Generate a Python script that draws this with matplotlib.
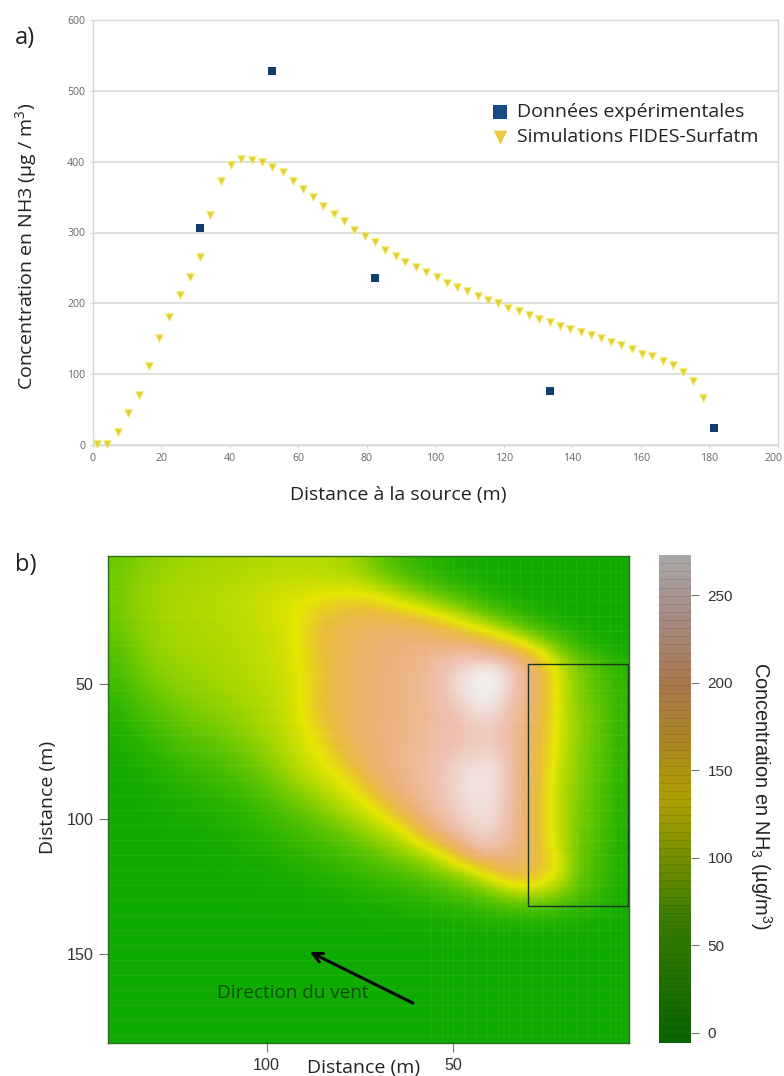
#!/usr/bin/env python3
"""Concentration en NH3 : profil (a) et carte (b)"""
import matplotlib
matplotlib.use('Agg')
import matplotlib.pyplot as plt
import numpy as np
from matplotlib.cm import ScalarMappable
from matplotlib.colors import LinearSegmentedColormap, Normalize
from matplotlib.patches import Rectangle
from matplotlib.transforms import ScaledTranslation

plt.rcParams['font.family'] = ['Open Sans', 'DejaVu Sans']
plt.rcParams['mathtext.default'] = 'regular'

# a) values
exp_x = [31.3, 52.4, 82.4, 133.5, 181.4]
exp_y = [306, 528, 236, 76, 23.5]
sim_x = [1.2, 4.3, 7.3, 10.4, 13.4, 16.4, 19.4, 22.4, 25.5, 28.3, 31.3, 34.3, 37.5, 40.4, 43.4,
         46.4, 49.4, 52.4, 55.5, 58.4, 61.3, 64.3, 67.2, 70.4, 73.4, 76.4, 79.4, 82.3, 85.4, 88.5,
         91.3, 94.3, 97.3, 100.4, 103.4, 106.4, 109.4, 112.4, 115.4, 118.4, 121.3, 124.4, 127.4,
         130.4, 133.4, 136.4, 139.4, 142.5, 145.4, 148.4, 151.4, 154.3, 157.4, 160.4, 163.4,
         166.4, 169.4, 172.4, 175.4, 178.1]
sim_y = [1.4, 1.9, 18.9, 44.7, 70, 111.6, 151.6, 181, 212, 237, 266, 325, 373, 395.5, 404,
         403, 399, 393, 385, 373, 361, 350, 337.6, 326, 316, 304, 295, 286, 275, 267,
         258, 252, 244, 237, 229, 223, 217, 210, 205, 200, 194, 189, 183,
         178, 173, 168, 164, 160, 155, 151, 146, 141, 136, 129, 125,
         119, 113, 103, 91, 67]

# b) concentration sampled on a coarse grid, from the colours of the picture
conc_grid = [
    [70, 80, 90, 95, 98, 100, 102, 104, 107, 108, 108, 102, 92, 65, 42, 28, 18, 11, 8, 7, 6, 6, 6, 6, 6, 6],
    [72, 88, 95, 100, 103, 106, 110, 114, 118, 120, 120, 120, 118, 105, 85, 60, 40, 28, 15, 10, 8, 7, 6, 6, 6, 6],
    [72, 88, 97, 102, 105, 108, 112, 118, 125, 133, 150, 160, 165, 160, 140, 128, 105, 80, 50, 30, 15, 10, 8, 7, 7, 6],
    [68, 84, 94, 100, 103, 106, 110, 115, 122, 133, 165, 178, 188, 195, 198, 190, 175, 155, 130, 100, 65, 35, 18, 10, 8, 7],
    [55, 80, 92, 98, 101, 104, 108, 113, 120, 133, 165, 180, 192, 200, 205, 210, 215, 215, 205, 188, 168, 125, 75, 35, 15, 8],
    [47, 70, 85, 92, 96, 100, 105, 111, 118, 130, 160, 180, 195, 203, 208, 215, 232, 252, 270, 270, 232, 185, 125, 82, 55, 24],
    [38, 58, 74, 84, 90, 95, 101, 107, 115, 128, 160, 180, 195, 203, 208, 218, 235, 258, 273, 271, 228, 190, 125, 78, 55, 28],
    [25, 45, 60, 72, 80, 86, 94, 103, 112, 128, 165, 182, 197, 203, 208, 218, 228, 242, 268, 256, 222, 185, 125, 82, 64, 28],
    [18, 30, 45, 58, 68, 75, 85, 97, 108, 125, 150, 175, 195, 205, 210, 218, 228, 235, 240, 240, 218, 180, 125, 88, 64, 28],
    [12, 20, 30, 42, 52, 60, 70, 85, 100, 120, 135, 170, 190, 205, 212, 222, 232, 240, 247, 245, 218, 170, 125, 82, 60, 25],
    [8, 12, 20, 28, 36, 44, 55, 70, 88, 108, 125, 140, 178, 200, 212, 225, 238, 252, 264, 258, 218, 170, 115, 82, 60, 25],
    [6, 8, 13, 18, 24, 30, 40, 52, 68, 88, 105, 125, 140, 185, 208, 222, 238, 255, 265, 257, 216, 165, 115, 78, 55, 22],
    [6, 6, 9, 12, 15, 19, 26, 35, 48, 62, 78, 98, 120, 135, 185, 212, 230, 250, 261, 254, 214, 165, 115, 75, 55, 20],
    [6, 6, 7, 9, 10, 13, 17, 23, 32, 42, 55, 70, 85, 108, 122, 175, 215, 238, 256, 248, 212, 165, 115, 72, 50, 18],
    [6, 6, 6, 7, 8, 9, 12, 15, 20, 27, 35, 45, 58, 72, 90, 110, 140, 190, 235, 228, 208, 168, 120, 68, 45, 16],
    [6, 6, 6, 6, 6, 7, 8, 9, 12, 16, 20, 26, 34, 42, 52, 65, 82, 105, 135, 175, 190, 175, 135, 65, 42, 14],
    [6, 6, 6, 6, 6, 6, 6, 7, 8, 9, 11, 14, 18, 22, 27, 33, 42, 52, 68, 95, 118, 118, 95, 58, 34, 13],
    [6, 6, 6, 6, 6, 6, 6, 6, 6, 6, 7, 8, 9, 10, 12, 14, 16, 20, 25, 30, 35, 35, 30, 22, 16, 10],
    [5, 5, 5, 5, 5, 5, 5, 5, 5, 5, 5, 5, 5, 6, 6, 7, 7, 8, 9, 9, 8, 8, 8, 7, 7, 6],
    [5, 5, 5, 5, 5, 5, 5, 5, 5, 5, 5, 5, 5, 5, 5, 5, 5, 5, 6, 6, 6, 6, 6, 6, 6, 6],
    [5, 5, 5, 5, 5, 5, 5, 5, 5, 5, 5, 5, 5, 5, 5, 5, 5, 5, 5, 5, 5, 5, 5, 5, 5, 5],
    [5, 5, 5, 5, 5, 5, 5, 5, 5, 5, 5, 5, 5, 5, 5, 5, 5, 5, 5, 5, 5, 5, 5, 5, 5, 5],
    [5, 5, 5, 5, 5, 5, 5, 5, 5, 5, 5, 5, 5, 5, 5, 5, 5, 5, 5, 5, 5, 5, 5, 5, 5, 5],
    [5, 5, 5, 5, 5, 5, 5, 5, 5, 5, 5, 5, 5, 5, 5, 5, 5, 5, 5, 5, 5, 5, 5, 5, 5, 5],
]
a_xticks = [0, 20, 40, 60, 80, 100, 120, 140, 160, 180, 200]
a_yticks = [0, 100, 200, 300, 400, 500, 600]
b_xticks = [100, 50]
b_yticks = [50, 100, 150]
cbar_ticks = [0, 50, 100, 150, 200, 250]

W, H = 784, 1076


def axes_px(x0, y0, x1, y1):
    # pixel box, y from top
    return [x0 / W, 1 - y1 / H, (x1 - x0) / W, (y1 - y0) / H]


# terrain colours, as in R
stops = [(0, '#00A600'), (.25, '#63C600'), (.5, '#E6E600'), (.625, '#E9BD3A'),
         (.75, '#ECB176'), (.875, '#EFC2B3'), (1, '#F2F2F2')]
stops_dark = [(0, '#0A6400'), (.25, '#387C00'), (.5, '#AFA000'), (.625, '#AA8426'),
              (.75, '#A87850'), (.875, '#A68A82'), (1, '#A9A6A6')]
terrain = LinearSegmentedColormap.from_list('terrain_r', stops)
terrain_dark = LinearSegmentedColormap.from_list('terrain_d', stops_dark, N=60)
norm = Normalize(-6, 273)

fig = plt.figure(figsize=(W / 100, H / 100), dpi=100)

# --- panel a
ax = fig.add_axes(axes_px(92.7, 20, 777.7, 445))
ax.set_xlim(0, 200)
ax.set_ylim(0, 600)
ax.set_xticks(a_xticks)
ax.set_yticks(a_yticks)
ax.grid(axis='y', color='#D6D6D6', lw=1.1)
ax.set_axisbelow(True)
for s in ax.spines.values():
    s.set_color('#D6D6D6')
    s.set_linewidth(1.0)
ax.tick_params(labelsize=7.6, labelcolor='#666666', color='#D6D6D6', length=2.5, pad=3)
# last label would run off the figure
last = ax.get_xticklabels()[-1]
last.set_ha('right')
last.set_transform(last.get_transform() + ScaledTranslation(5 / 100, 0, fig.dpi_scale_trans))
ax.scatter(sim_x, sim_y, marker='v', s=32, color='#DDCF30', edgecolors=(1, .95, .45, .4),
           linewidths=1.4, label='Simulations FIDES-Surfatm', zorder=3, clip_on=False)
ax.scatter(exp_x, exp_y, marker='s', s=36, color='#103C70', linewidths=0,
           label='Données expérimentales', zorder=4, clip_on=False)
handles, labels = ax.get_legend_handles_labels()
leg = ax.legend(handles[::-1], labels[::-1], loc='upper left', bbox_to_anchor=(0.58, 0.805),
                frameon=False, fontsize=14, markerscale=1.75, labelcolor='#222222',
                handlelength=1, handletextpad=0.4, labelspacing=0.38,
                borderpad=0, borderaxespad=0)
leg.legend_handles[0].set_color('#1A4A86')
leg.legend_handles[1].set_color('#EBC840')
leg.legend_handles[1].set_linewidth(0)
ax.set_xlabel('Distance à la source (m)', fontsize=14, color='#222222', va='center')
ax.xaxis.set_label_coords(0.4457, -0.1176)
ax.set_ylabel('Concentration en NH3 (µg / m$^3$)', fontsize=14, color='#222222')
ax.yaxis.set_label_coords(-0.078, 0.466)

# --- panel b
bx = fig.add_axes(axes_px(108, 556, 629, 1043))
bx.imshow(conc_grid, cmap=terrain, norm=norm, aspect='auto',
          extent=(142.5, 2.9, 183, 2.6), interpolation='bicubic')
# faint raster lines of the source image
bx.hlines(np.arange(8, 183, 5.55), 142.5, 2.9, color='white', alpha=0.06, lw=0.8)
bx.vlines(np.arange(5, 58, 3), 183, 2.6, color='white', alpha=0.05, lw=0.8)
bx.set_xticks(b_xticks)
bx.set_yticks(b_yticks)
for s in bx.spines.values():
    s.set_color('#2F6B22')
    s.set_linewidth(1.0)
bx.tick_params(labelsize=11.6, labelcolor='#333333', color='#777777', length=6.5, pad=4)
for t in bx.get_xticklabels() + bx.get_yticklabels():
    t.set_fontfamily('Liberation Sans')
bx.set_xlabel('Distance (m)', fontsize=14, color='#222222', va='center')
bx.xaxis.set_label_coords(0.49, -0.0513)
bx.set_ylabel('Distance (m)', fontsize=14, color='#222222')
bx.yaxis.set_label_coords(-0.0988, 0.505)
bx.add_patch(Rectangle((3.2, 42.6), 26.7, 89.5, fill=False, ec='#17351A', lw=1.0))
bx.annotate('', xy=(88.4, 149.3), xytext=(60.8, 168.2),
            arrowprops=dict(arrowstyle='->', color='#050505', lw=2.2, mutation_scale=17,
                            shrinkA=0, shrinkB=0))
bx.text(93, 164.5, 'Direction du vent', ha='center', va='center', fontsize=13.6,
        color='#0B4F05')

# --- colour bar
cax = fig.add_axes(axes_px(659, 555, 691, 1043))
cbar = fig.colorbar(ScalarMappable(norm, terrain_dark), cax=cax, ticks=cbar_ticks,
                    boundaries=np.linspace(-6, 273, 61), drawedges=True)
cbar.outline.set_visible(False)
cbar.dividers.set_color('#000000')
cbar.dividers.set_alpha(0.12)
cbar.dividers.set_linewidth(0.5)
cbar.ax.tick_params(labelsize=11, labelcolor='#333333', color='#777777', length=6, pad=6)
for t in cbar.ax.get_yticklabels():
    t.set_fontfamily('Liberation Sans')
cbar.set_label('Concentration en NH$_3$ (µg/m$^3$)', rotation=270, fontsize=14.4,
               family='Liberation Sans', color='#222222')
cbar.ax.yaxis.set_label_coords(3.2, 0.506)
cbar.ax.yaxis.label.set_va('center')

fig.text(15 / W, 1 - 38 / H, 'a)', fontsize=17, color='#222222', va='center')
fig.text(15 / W, 1 - 565 / H, 'b)', fontsize=17, color='#222222', va='center')

plt.savefig('out.png', dpi=100, facecolor='white')
plt.close()
